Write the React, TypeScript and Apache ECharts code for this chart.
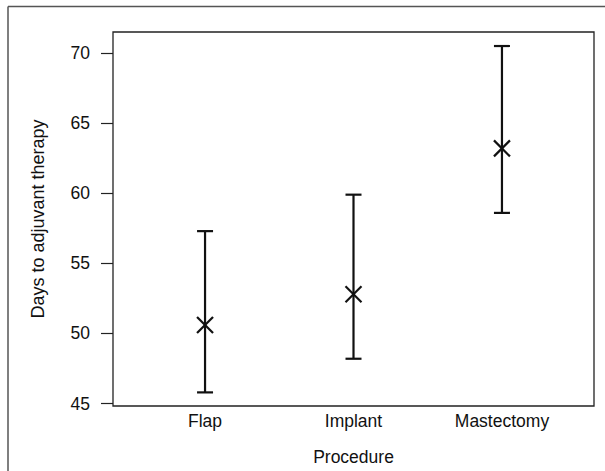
import React, { useEffect, useRef } from "react";
import * as echarts from "echarts";

const categories = ["Flap", "Implant", "Mastectomy"];
const means = [50.6, 52.8, 63.2];
const lowerCI = [45.8, 48.2, 58.6];
const upperCI = [57.3, 59.9, 70.5];
const yTicks = [45, 50, 55, 60, 65, 70];
const xTicks = [1, 2, 3];

const FONT = "'Liberation Sans', Arial, Helvetica, sans-serif";

export default function App() {
  const ref = useRef<HTMLDivElement>(null);
  useEffect(() => {
    if (!ref.current) return;
    const chart = echarts.init(ref.current, null, { renderer: "svg" });
    const data = categories.map((c, i) => [i + 1, means[i], lowerCI[i], upperCI[i]]);
    const ink = "#111";
    chart.setOption({
      animation: false,
      backgroundColor: "#fff",
      textStyle: { fontFamily: FONT },
      grid: {
        left: 113,
        top: 32,
        right: 11,
        bottom: 65,
        show: true,
        borderColor: "#222",
        borderWidth: 1.3,
        backgroundColor: "transparent",
      },
      xAxis: {
        type: "value",
        min: 0.38,
        max: 3.62,
        splitLine: { show: false },
        axisLine: { show: false },
        axisTick: { show: false, customValues: xTicks },
        axisLabel: {
          customValues: xTicks,
          formatter: (v: number) => categories[Math.round(v) - 1] ?? "",
          fontSize: 17.5,
          color: ink,
          margin: 6,
          fontFamily: FONT,
        },
        name: "Procedure",
        nameLocation: "middle",
        nameGap: 42,
        nameTextStyle: { fontSize: 17.5, color: ink, fontFamily: FONT },
      },
      yAxis: {
        type: "value",
        min: 44.83,
        max: 71.5,
        splitLine: { show: false },
        axisLine: { show: false },
        axisTick: {
          show: true,
          customValues: yTicks,
          length: 12,
          lineStyle: { color: "#222", width: 1.2 },
        },
        axisLabel: {
          customValues: yTicks,
          fontSize: 17.5,
          color: ink,
          margin: 23,
          fontFamily: FONT,
        },
        name: "Days to adjuvant therapy",
        nameLocation: "middle",
        nameGap: 66,
        nameRotate: 90,
        nameTextStyle: { fontSize: 18, color: ink, fontFamily: FONT },
      },
      graphic: [
        {
          type: "line",
          shape: { x1: 8, y1: 6.5, x2: 8, y2: 471 },
          style: { stroke: "#555", lineWidth: 1.5 },
          silent: true,
        },
        {
          type: "line",
          shape: { x1: 8, y1: 6.5, x2: 605, y2: 6.5 },
          style: { stroke: "#555", lineWidth: 1.5 },
          silent: true,
        },
      ],
      series: [
        {
          type: "custom",
          data,
          encode: { x: 0, y: 1 },
          renderItem: (params: any, api: any) => {
            const x = api.value(0);
            const m = api.coord([x, api.value(1)]);
            const lo = api.coord([x, api.value(2)]);
            const hi = api.coord([x, api.value(3)]);
            const cap = 8;
            const xs = 8;
            const style = { stroke: "#111", lineWidth: 2.2, fill: "none" };
            return {
              type: "group",
              children: [
                { type: "line", shape: { x1: hi[0], y1: hi[1], x2: lo[0], y2: lo[1] }, style },
                { type: "line", shape: { x1: hi[0] - cap, y1: hi[1], x2: hi[0] + cap, y2: hi[1] }, style },
                { type: "line", shape: { x1: lo[0] - cap, y1: lo[1], x2: lo[0] + cap, y2: lo[1] }, style },
                { type: "line", shape: { x1: m[0] - xs, y1: m[1] - xs, x2: m[0] + xs, y2: m[1] + xs }, style },
                { type: "line", shape: { x1: m[0] - xs, y1: m[1] + xs, x2: m[0] + xs, y2: m[1] - xs }, style },
              ],
            };
          },
        },
      ],
    });
    return () => chart.dispose();
  }, []);
  return (
    <div
      ref={ref}
      style={{ position: "fixed", left: 0, top: 0, width: 605, height: 471 }}
    />
  );
}
